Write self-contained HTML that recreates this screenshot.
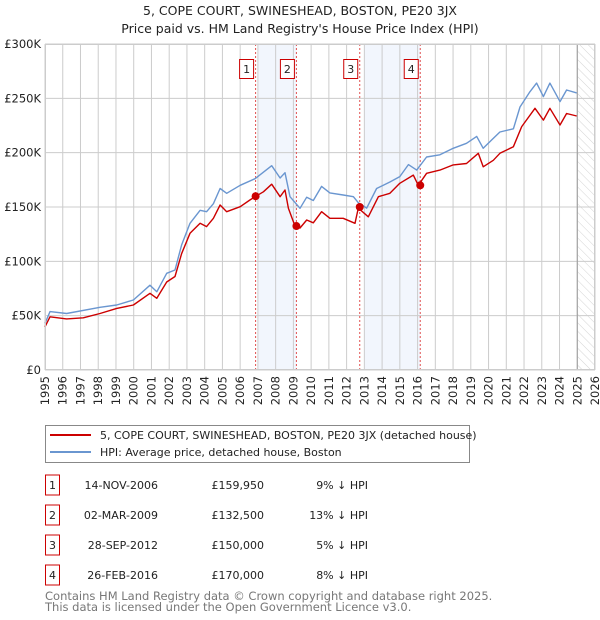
<!DOCTYPE html>
<html><head><meta charset="utf-8"><style>
body{margin:0;background:#fff;font-family:"DejaVu Sans","Liberation Sans",sans-serif;}
svg{display:block}
</style></head><body>
<svg width="600" height="620" viewBox="0 0 600 620" xmlns="http://www.w3.org/2000/svg" font-family="DejaVu Sans, Liberation Sans, sans-serif">
<defs><pattern id="hatch" patternUnits="userSpaceOnUse" width="6" height="6" patternTransform="rotate(-45)"><line x1="0" y1="0" x2="0" y2="6" stroke="#d4d4d4" stroke-width="1"/></pattern></defs>
<text x="300" y="15" text-anchor="middle" font-size="12.5" fill="#222">5, COPE COURT, SWINESHEAD, BOSTON, PE20 3JX</text>
<text x="300" y="33" text-anchor="middle" font-size="12.5" fill="#222">Price paid vs. HM Land Registry's House Price Index (HPI)</text>
<g id="plot"></g>
<g>
<rect x="45.5" y="425.5" width="424" height="37" fill="#fff" stroke="#888"/>
<line x1="50" y1="435" x2="91" y2="435" stroke="#cc0000" stroke-width="2"/>
<text x="100" y="439" font-size="11" fill="#222">5, COPE COURT, SWINESHEAD, BOSTON, PE20 3JX (detached house)</text>
<line x1="50" y1="452" x2="91" y2="452" stroke="#6a96d0" stroke-width="2"/>
<text x="100" y="456" font-size="11" fill="#222">HPI: Average price, detached house, Boston</text>
</g>
<g id="table" font-size="11" fill="#222"></g>
<text x="45" y="600" font-size="11.5" fill="#777">Contains HM Land Registry data © Crown copyright and database right 2025.</text>
<text x="45" y="611" font-size="11.5" fill="#777">This data is licensed under the Open Government Licence v3.0.</text>
</svg>
<script>
const hpiYears=[1995.0,1995.28,1996.22,1998.1,1999.04,1999.98,2000.92,2001.3,2001.86,2002.33,2002.7,2003.17,2003.74,2004.11,2004.49,2004.87,2005.24,2006.0,2006.84,2007.78,2008.25,2008.53,2008.81,2009.37,2009.75,2010.12,2010.59,2011.06,2011.81,2012.38,2012.66,2013.13,2013.69,2014.44,2015.0,2015.48,2015.95,2016.51,2017.26,2018.01,2018.76,2019.33,2019.7,2020.17,2020.64,2021.4,2021.77,2022.33,2022.71,2023.09,2023.46,2024.03,2024.4,2024.97];
const hpiValues=[43,53.7,52,57.7,59.8,64.4,78,72,89,92,115,135,147,145.7,153,167,162.6,170,176,188,176.7,181.6,159.5,148.8,159,156,169,163,161,159.5,154,149,167,173,178,189,184,196,198,204,208.6,215,204,211.7,219,222,242,256,264,251.6,264,247,257.7,255];
const propYears=[1995.0,1995.28,1996.22,1997.16,1998.1,1999.04,1999.98,2000.92,2001.3,2001.86,2002.33,2002.7,2003.17,2003.74,2004.11,2004.49,2004.87,2005.24,2006.0,2006.55,2006.84,2007.31,2007.78,2008.25,2008.53,2008.72,2009.1,2009.37,2009.75,2010.12,2010.59,2011.06,2011.81,2012.47,2012.66,2013.22,2013.79,2014.44,2015.0,2015.76,2016.04,2016.51,2017.26,2018.01,2018.76,2019.42,2019.7,2020.27,2020.64,2021.4,2021.87,2022.62,2023.09,2023.46,2024.03,2024.4,2024.97];
const propValues=[39.8,49,47,48,52,56.7,59.8,70.6,66,81,86,107,125.8,135,132,139.6,151.8,145.7,150.3,156.4,159.5,164,171,159.5,165.6,148.8,132,130.7,138,135.5,145.7,139.6,139.6,135,149,141,159.5,162.6,171.8,179.4,170,181,184,188.7,190,199.4,187,193,199.4,205.5,224,240.8,230,240.8,225.5,236,233.7];
const saleLabels=["1","2","3","4"];
const saleYears=[2006.87,2009.17,2012.74,2016.15];
const saleValues=[159.95,132.5,150,170];
const saleDates=["14-NOV-2006","02-MAR-2009","28-SEP-2012","26-FEB-2016"];
const salePrices=["£159,950","£132,500","£150,000","£170,000"];
const salePct=["9% ↓ HPI","13% ↓ HPI","5% ↓ HPI","8% ↓ HPI"];
const shadeStart=[2007.0,2013.0];
const shadeEnd=[2009.17,2016.15];
const yTicks=[0,50,100,150,200,250,300];
const yTickLabels=["£0","£50K","£100K","£150K","£200K","£250K","£300K"];
const xTicks=[];for(let y=1995;y<=2026;y++)xTicks.push(y);

const NS="http://www.w3.org/2000/svg";
const X0=45,X1=595,Y0=370,Y1=44;
const xs=y=>X0+(y-1995)/(2026-1995)*(X1-X0);
const ys=v=>Y0-v/300*(Y0-Y1);
const plot=document.getElementById('plot');
function mk(tag,attrs,parent,text){const e=document.createElementNS(NS,tag);for(const k in attrs)e.setAttribute(k,attrs[k]);if(text!==undefined)e.textContent=text;(parent||plot).appendChild(e);return e;}

for(let i=0;i<shadeStart.length;i++){
 const r=mk('rect',{x:xs(shadeStart[i]),y:Y1,width:xs(shadeEnd[i])-xs(shadeStart[i]),height:Y0-Y1,fill:'#f2f6fd'});
 
 
}
const hr=mk('rect',{x:xs(2025),y:Y1,width:X1-xs(2025),height:Y0-Y1,fill:'url(#hatch)'});


xTicks.forEach(t=>{
 const l=mk('line',{x1:xs(t),x2:xs(t),y1:Y1,y2:Y0,stroke:'#ccc','stroke-width':1});
 
 
 const tx=mk('text',{x:0,y:0,transform:`translate(${xs(t)+4},${Y0+6}) rotate(-90)`,'text-anchor':'end','font-size':11.5,fill:'#222'},plot,String(t));
 
 
});
yTicks.forEach((t,i)=>{
 const l=mk('line',{x1:X0,x2:X1,y1:ys(t),y2:ys(t),stroke:'#ccc','stroke-width':1});
 
 
 const tx=mk('text',{x:X0-4,y:ys(t)+4,'text-anchor':'end','font-size':11.5,fill:'#222'},plot,yTickLabels[i]);
 
 
});
const nowL=mk('line',{x1:xs(2025),x2:xs(2025),y1:Y1,y2:Y0,stroke:'#999','stroke-width':1});


saleYears.forEach((y,i)=>{
 const l=mk('line',{x1:xs(y),x2:xs(y),y1:Y1,y2:Y0,stroke:'#e05050','stroke-width':1,'stroke-dasharray':'2,2'});
 
 
});
function path(xa,va,color,name){
 const d=xa.map((y,i)=>(i?'L':'M')+xs(y).toFixed(1)+','+ys(va[i]).toFixed(1)).join('');
 const p=mk('path',{d,fill:'none',stroke:color,'stroke-width':1.4,'stroke-linejoin':'round'});
 
 
}
path(hpiYears,hpiValues,'#6a96d0','hpi-line');
path(propYears,propValues,'#cc0000','property-line');
saleYears.forEach((y,i)=>{
 const c=mk('circle',{cx:xs(y),cy:ys(saleValues[i]),r:4,fill:'#cc0000'});
 
 
 const b=mk('rect',{x:xs(y)-16,y:59.5,width:14,height:19,fill:'#fff',stroke:'#cc0000'});
 
 
 const t=mk('text',{x:xs(y)-9,y:73,'text-anchor':'middle','font-size':11,fill:'#222'},plot,saleLabels[i]);
 
 
});
const tb=document.getElementById('table');
saleLabels.forEach((s,i)=>{
 const cy=485+i*30;
 const b=mk('rect',{x:45.5,y:cy-10,width:14,height:20,fill:'#fff',stroke:'#cc0000'},tb);
 
 
 const n=mk('text',{x:52.5,y:cy+4,'text-anchor':'middle'},tb,s);
 
 
 const d=mk('text',{x:158,y:cy+4,'text-anchor':'end'},tb,saleDates[i]);
 
 
 const p=mk('text',{x:264,y:cy+4,'text-anchor':'end'},tb,salePrices[i]);
 
 
 const q=mk('text',{x:368,y:cy+4,'text-anchor':'end'},tb,salePct[i]);
 
 
});
const fr=mk('rect',{x:X0+0.5,y:Y1+0.5,width:X1-X0-1,height:Y0-Y1-1,fill:'none',stroke:'#ccc'});


</script>
</body></html>
